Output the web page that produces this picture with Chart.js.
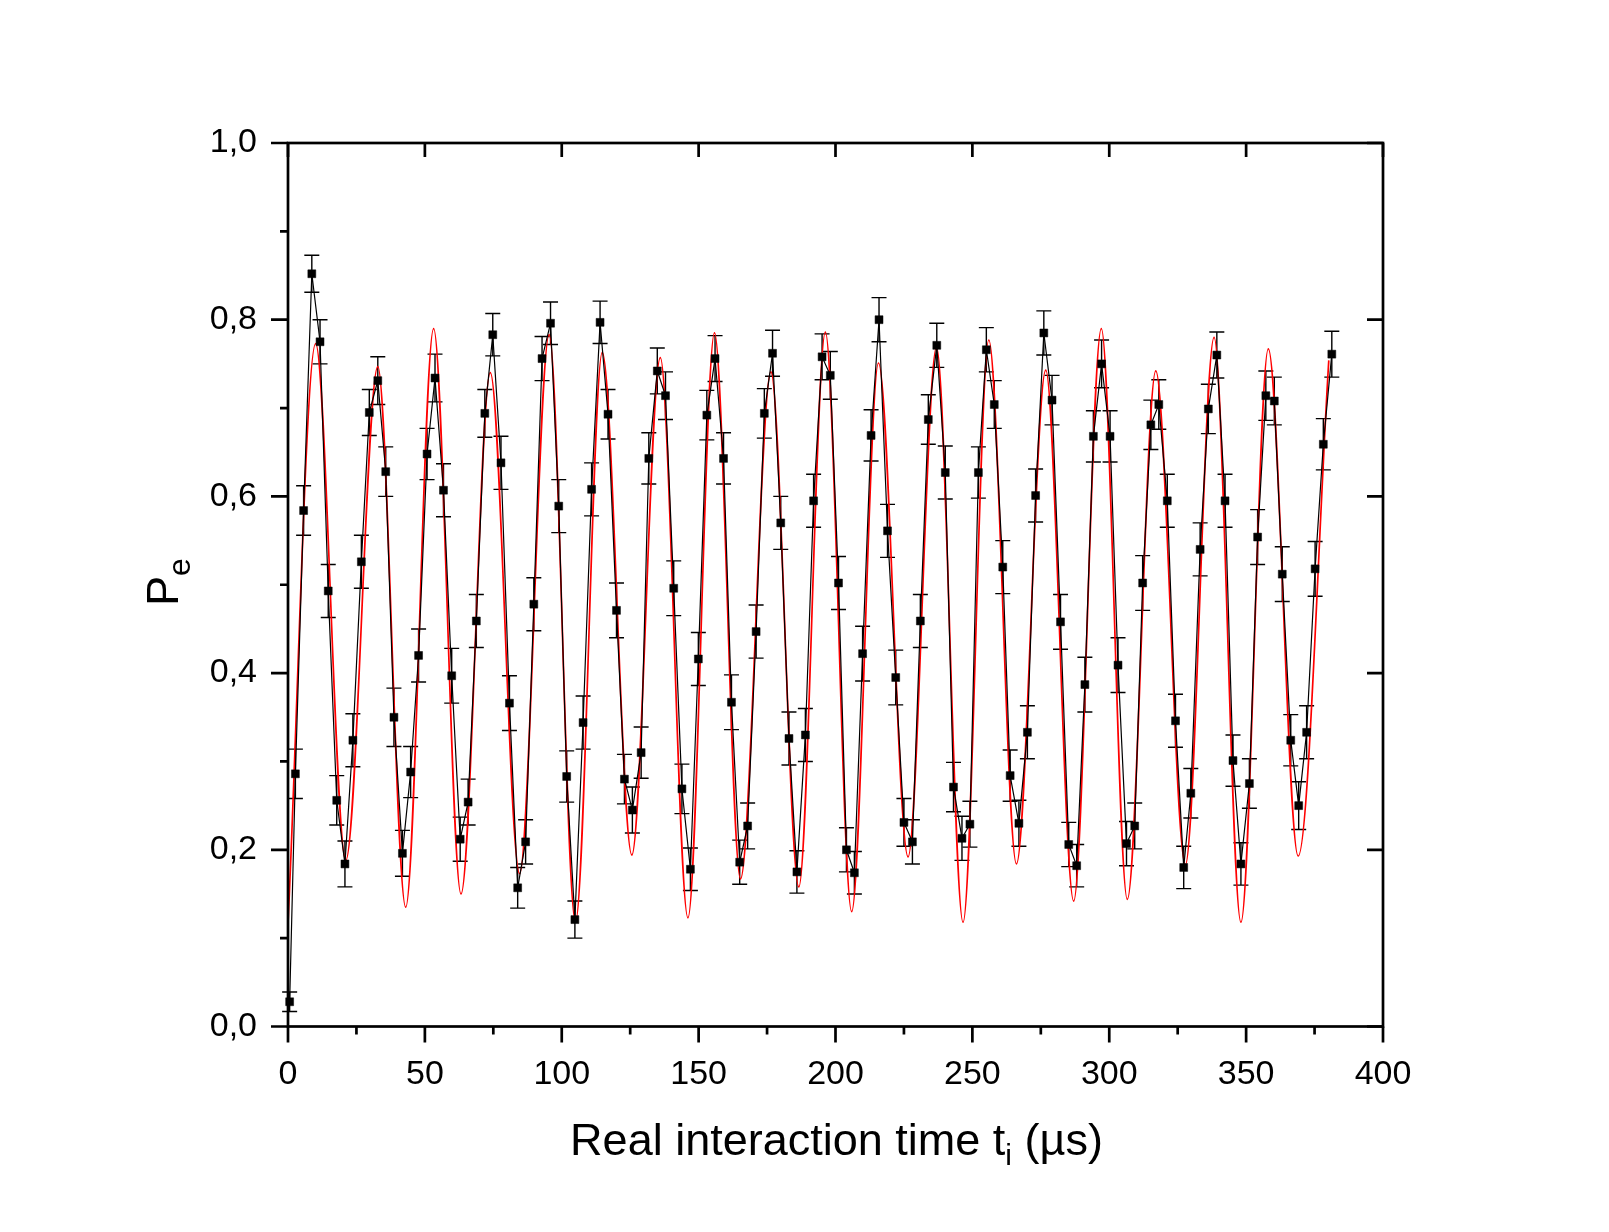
<!DOCTYPE html>
<html>
<head>
<meta charset="utf-8">
<script src="https://cdn.jsdelivr.net/npm/chart.js@4.4.1/dist/chart.umd.min.js"></script>
<style>
  body { margin: 0; background: #fff; }
  canvas { display: block; }
</style>
</head>
<body>
<canvas id="resultChart" width="1609" height="1232"></canvas>
<script>
// measured points: time (µs), excited population, error
const times = [0.6, 2.7, 5.7, 8.7, 11.7, 14.7, 17.8, 20.8, 23.7, 26.8, 29.7, 32.8, 35.7, 38.7, 41.8, 44.8,
  47.7, 50.8, 53.7, 56.8, 59.8, 62.9, 65.8, 68.8, 71.9, 74.8, 77.8, 80.9, 83.9, 86.8, 89.8, 92.8,
  95.9, 98.9, 101.8, 104.8, 107.8, 110.9, 114.0, 116.9, 120.0, 122.9, 125.8, 129.0, 131.8, 134.9,
  137.9, 140.9, 143.9, 147.0, 149.9, 153.0, 156.0, 159.1, 162.0, 165.0, 167.9, 171.0, 174.0, 177.0,
  180.0, 183.0, 185.9, 189.0, 192.0, 195.1, 198.1, 201.1, 204.0, 206.9, 209.9, 213.0, 215.9, 219.0,
  222.0, 225.0, 228.1, 231.0, 233.9, 237.0, 240.1, 243.1, 246.2, 249.1, 252.2, 255.1, 258.0, 261.1,
  263.8, 267.0, 270.1, 273.1, 276.1, 279.1, 282.2, 285.2, 288.1, 291.1, 294.2, 297.2, 300.3, 303.2,
  306.3, 309.3, 312.2, 315.2, 318.1, 321.2, 324.2, 327.2, 329.8, 333.2, 336.2, 339.3, 342.3, 345.2,
  348.1, 351.2, 354.2, 357.2, 360.3, 363.2, 366.3, 369.2, 372.1, 375.2, 378.2, 381.3];
const pe = [0.028, 0.286, 0.584, 0.852, 0.775, 0.493, 0.256, 0.184, 0.324, 0.526, 0.695, 0.731, 0.628, 0.350, 0.196, 0.288,
  0.420, 0.648, 0.734, 0.607, 0.397, 0.212, 0.254, 0.459, 0.694, 0.783, 0.638, 0.366, 0.157, 0.209, 0.478, 0.756,
  0.796, 0.589, 0.283, 0.121, 0.344, 0.608, 0.797, 0.693, 0.471, 0.280, 0.245, 0.310, 0.643, 0.742,
  0.714, 0.496, 0.269, 0.178, 0.416, 0.692, 0.756, 0.643, 0.367, 0.186, 0.227, 0.447, 0.694, 0.762,
  0.570, 0.326, 0.175, 0.330, 0.595, 0.758, 0.737, 0.502, 0.200, 0.174, 0.422, 0.669, 0.800, 0.561,
  0.395, 0.231, 0.209, 0.459, 0.687, 0.771, 0.627, 0.271, 0.213, 0.229, 0.627, 0.766, 0.704, 0.520,
  0.284, 0.230, 0.333, 0.601, 0.785, 0.709, 0.458, 0.206, 0.182, 0.387, 0.668, 0.750, 0.668, 0.409,
  0.207, 0.227, 0.502, 0.681, 0.704, 0.595, 0.346, 0.180, 0.264, 0.540, 0.699, 0.760, 0.595, 0.301,
  0.184, 0.275, 0.554, 0.714, 0.708, 0.512, 0.324, 0.250, 0.333, 0.518, 0.659, 0.761];
const errors = [0.011, 0.028, 0.028, 0.021, 0.025, 0.030, 0.028, 0.026, 0.030, 0.030, 0.026, 0.027, 0.028, 0.033, 0.026, 0.029,
  0.030, 0.029, 0.027, 0.030, 0.031, 0.025, 0.026, 0.030, 0.027, 0.024, 0.030, 0.031, 0.023, 0.025, 0.030, 0.025,
  0.024, 0.030, 0.029, 0.021, 0.030, 0.030, 0.024, 0.028, 0.031, 0.028, 0.026, 0.029, 0.029, 0.026,
  0.027, 0.031, 0.028, 0.024, 0.030, 0.028, 0.026, 0.029, 0.031, 0.025, 0.026, 0.030, 0.028, 0.026,
  0.030, 0.030, 0.024, 0.030, 0.030, 0.026, 0.027, 0.030, 0.025, 0.024, 0.031, 0.029, 0.025, 0.030,
  0.031, 0.027, 0.025, 0.030, 0.028, 0.025, 0.030, 0.028, 0.025, 0.026, 0.029, 0.025, 0.027, 0.030,
  0.029, 0.026, 0.030, 0.030, 0.025, 0.028, 0.031, 0.025, 0.024, 0.031, 0.029, 0.027, 0.029, 0.031,
  0.025, 0.026, 0.031, 0.028, 0.028, 0.030, 0.030, 0.024, 0.028, 0.030, 0.028, 0.026, 0.030, 0.029,
  0.024, 0.028, 0.031, 0.028, 0.027, 0.031, 0.029, 0.027, 0.030, 0.031, 0.029, 0.026];

// fitted curve (red): start point and its maxima / minima
const fitTimes = [0, 10.1, 21.1, 32.8, 43.0, 53.2, 63.2, 73.9, 84.6, 95.4, 105.0, 114.8, 125.6, 136.0, 146.1, 155.8,
  165.3, 176.4, 186.6, 196.3, 205.9, 215.7, 226.5, 236.9, 246.6, 256.0, 266.1, 276.8, 287.0, 297.1,
  306.6, 317.0, 327.8, 338.3, 348.1, 358.1, 369.0, 380.2];
const fitValues = [0.116, 0.773, 0.188, 0.747, 0.135, 0.790, 0.150, 0.740, 0.173, 0.783, 0.118, 0.763, 0.194, 0.757, 0.123, 0.785,
  0.167, 0.741, 0.158, 0.786, 0.130, 0.751, 0.192, 0.769, 0.118, 0.777, 0.184, 0.743, 0.142, 0.790,
  0.144, 0.742, 0.183, 0.780, 0.118, 0.767, 0.193, 0.754];

const xTicks = [0, 50, 100, 150, 200, 250, 300, 350, 400];
const xMinor = [25, 75, 125, 175, 225, 275, 325, 375];
const yTicks = [0, 0.2, 0.4, 0.6, 0.8, 1.0];
const yMinor = [0.1, 0.3, 0.5, 0.7, 0.9];

const FONT = '"Liberation Sans", Arial, Helvetica, sans-serif';

const points = times.map((t, i) => ({ x: t, y: pe[i] }));
const fitCurve = fitTimes.map((t, i) => ({ x: t, y: fitValues[i] }));

const errorBars = {
    id: "errorBars",
    beforeDatasetsDraw(chart) {
        const c = chart.ctx;
        const xs = chart.scales.x, ys = chart.scales.y;
        c.save();
        c.strokeStyle = "#000";
        c.lineWidth = 1.4;
        times.forEach((t, i) => {
            const px = xs.getPixelForValue(t);
            const top = ys.getPixelForValue(pe[i] + errors[i]);
            const bot = ys.getPixelForValue(pe[i] - errors[i]);
            c.beginPath();
            c.moveTo(px, top); c.lineTo(px, bot);
            c.moveTo(px - 7.5, top); c.lineTo(px + 7.5, top);
            c.moveTo(px - 7.5, bot); c.lineTo(px + 7.5, bot);
            c.stroke();
        });
        c.restore();
    }
};

const frame = {
    id: "frame",
    afterDraw(chart) {
        const c = chart.ctx;
        const a = chart.chartArea;
        const xs = chart.scales.x, ys = chart.scales.y;
        c.save();
        c.strokeStyle = "#000";
        c.lineWidth = 2.7;
        c.strokeRect(a.left, a.top, a.right - a.left, a.bottom - a.top);
        c.beginPath();
        // bottom: outward
        xTicks.forEach(v => { const p = xs.getPixelForValue(v); c.moveTo(p, a.bottom); c.lineTo(p, a.bottom + 16); });
        xMinor.forEach(v => { const p = xs.getPixelForValue(v); c.moveTo(p, a.bottom); c.lineTo(p, a.bottom + 8); });
        // top: inward
        xTicks.forEach(v => { const p = xs.getPixelForValue(v); c.moveTo(p, a.top); c.lineTo(p, a.top + 14); });
        // left: outward
        yTicks.forEach(v => { const p = ys.getPixelForValue(v); c.moveTo(a.left, p); c.lineTo(a.left - 17, p); });
        yMinor.forEach(v => { const p = ys.getPixelForValue(v); c.moveTo(a.left, p); c.lineTo(a.left - 8, p); });
        // right: inward
        yTicks.forEach(v => { const p = ys.getPixelForValue(v); c.moveTo(a.right, p); c.lineTo(a.right - 16, p); });
        c.stroke();

        // axis titles with subscripts
        c.fillStyle = "#000";
        c.textBaseline = "alphabetic";
        c.textAlign = "left";
        const big = "45px " + FONT, small = "30px " + FONT;
        c.font = big;
        const w1 = c.measureText("Real interaction time t").width;
        const w3 = c.measureText(" (µs)").width;
        c.font = small;
        const w2 = c.measureText("i").width;
        const total = w1 + w2 + w3;
        let x0 = (a.left + a.right) / 2 - total / 2 + 1;
        const base = 1155;
        c.font = big;
        c.fillText("Real interaction time t", x0, base);
        c.font = small;
        c.fillText("i", x0 + w1, base + 10);
        c.font = big;
        c.fillText(" (µs)", x0 + w1 + w2, base);

        c.translate(178, 606);
        c.rotate(-Math.PI / 2);
        c.font = big;
        c.fillText("P", 0, 0);
        const wp = c.measureText("P").width;
        c.font = "32px " + FONT;
        c.fillText("e", wp, 12);
        c.restore();
    }
};

const chartInstance = new Chart(document.getElementById("resultChart"), {
    type: "scatter",
    data: {
        datasets: [{
            label: "Pe",
            data: points,
            showLine: true,
            borderColor: "#000",
            borderWidth: 1.2,
            backgroundColor: "#000",
            pointStyle: "rect",
            pointRadius: 5.6,
            pointBorderWidth: 0.5,
            tension: 0,
            clip: false,
            order: 0
        }, {
            label: "fit",
            data: fitCurve,
            showLine: true,
            borderColor: "#ff0000",
            borderWidth: 1.7,
            pointRadius: 0,
            cubicInterpolationMode: "monotone",
            order: 1
        }]
    },
    options: {
        responsive: false,
        animation: false,
        devicePixelRatio: 1,
        layout: { padding: { top: 143, right: 226, left: 0, bottom: 0 } },
        plugins: { legend: { display: false }, tooltip: { enabled: false } },
        scales: {
            x: {
                type: "linear",
                min: 0, max: 400,
                afterFit: s => { s.height = 205.5; },
                afterBuildTicks: s => { s.ticks = xTicks.map(v => ({ value: v })); },
                grid: { display: false, drawTicks: false },
                border: { display: false },
                ticks: {
                    padding: 28,
                    color: "#000",
                    font: { size: 34, family: FONT },
                    maxRotation: 0
                }
            },
            y: {
                type: "linear",
                min: 0, max: 1,
                afterFit: s => { s.width = 288; },
                afterBuildTicks: s => { s.ticks = yTicks.map(v => ({ value: v })); },
                grid: { display: false, drawTicks: false },
                border: { display: false },
                ticks: {
                    padding: 31,
                    color: "#000",
                    font: { size: 34, family: FONT },
                    callback: v => v.toFixed(1).replace(".", ",")
                }
            }
        }
    },
    plugins: [errorBars, frame]
});
</script>
</body>
</html>
